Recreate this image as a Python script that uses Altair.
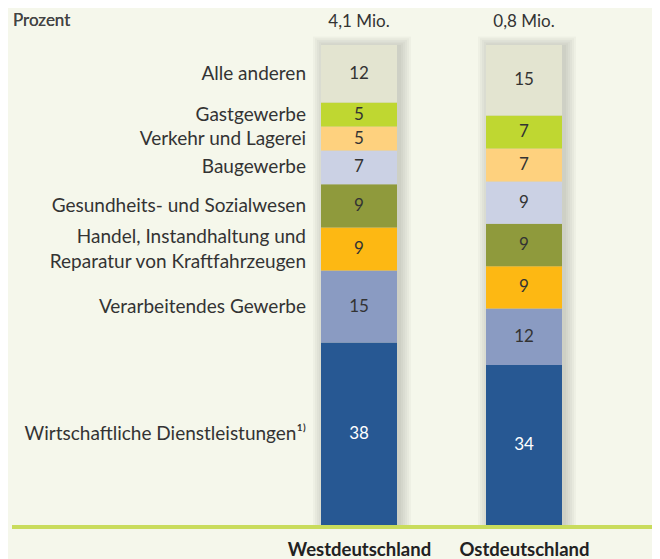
import altair as alt
import pandas as pd

# ---- data (bottom to top of each bar) ----
categories = [
    "Wirtschaftliche Dienstleistungen¹⁾",
    "Verarbeitendes Gewerbe",
    "Handel, Instandhaltung und\nReparatur von Kraftfahrzeugen",
    "Gesundheits- und Sozialwesen",
    "Baugewerbe",
    "Verkehr und Lagerei",
    "Gastgewerbe",
    "Alle anderen",
]
west = [38, 15, 9, 9, 7, 5, 5, 12]
ost = [34, 12, 9, 9, 9, 7, 7, 15]
colors = ["#275893", "#8a9bc2", "#fdb813", "#8f9a3c", "#cbd1e4", "#fed17e", "#bfd731", "#e3e4d0"]
regions = ["Westdeutschland", "Ostdeutschland"]
totals = ["4,1 Mio.", "0,8 Mio."]

rows = []
for reg, vals in zip(regions, [west, ost]):
    for i, (c, v) in enumerate(zip(categories, vals)):
        rows.append({"region": reg, "category": c, "value": v, "order": i})
df = pd.DataFrame(rows)
tot_df = pd.DataFrame({"region": regions, "total": totals, "top": [1, 1], "bot": [0, 0]})

FONT = "Lato"
TXT = "#333333"

xscale = alt.Scale(type="point", domain=regions, range=[351, 516], padding=0)
yscale = alt.Scale(domain=[0, 1], range=[517, 37], nice=False, zero=False)

xaxis = alt.Axis(title=None, domain=False, ticks=False, labelFont=FONT,
                 labelFontSize=18.5, labelFontWeight="bold", labelColor="#222",
                 labelPadding=13, labelBaseline="top", labelAngle=0)
xenc = alt.X("region:N", scale=xscale, axis=xaxis)

base = alt.Chart(df).transform_stack(
    stack="value", groupby=["region"], as_=["y0", "y1"], offset="normalize",
    sort=[alt.SortField("order", order="ascending")]
).transform_calculate(mid="(datum.y0 + datum.y1) / 2")

shadows = []
for k in range(6):
    shadows.append(
        alt.Chart(tot_df).transform_calculate(st=f"datum.top + {0.0035 * k}")
        .mark_bar(size=78 + 4 * k, color="#3a3d30", opacity=0.035, xOffset=3)
        .encode(x=xenc, y=alt.Y("bot:Q", scale=yscale, axis=None), y2="st:Q")
    )

bars = base.mark_bar(size=76).encode(
    x=xenc,
    y=alt.Y("y0:Q", scale=yscale, axis=None),
    y2="y1:Q",
    color=alt.Color("category:N", scale=alt.Scale(domain=categories, range=colors), legend=None),
)

values = base.mark_text(font=FONT, fontSize=17, baseline="middle").encode(
    x=xenc,
    y=alt.Y("mid:Q", scale=yscale),
    text="value:Q",
    color=alt.condition(alt.datum.order == 0, alt.value("white"), alt.value(TXT)),
)

west_only = base.transform_filter(alt.datum.region == "Westdeutschland")

labels_single = west_only.transform_filter("indexof(datum.category, '\\n') < 0").mark_text(
    font=FONT, fontSize=19, align="right", baseline="middle", dx=-53, color=TXT
).encode(
    x=xenc,
    y=alt.Y("mid:Q", scale=yscale),
    text="category:N",
)

labels_multi = west_only.transform_filter("indexof(datum.category, '\\n') >= 0").mark_text(
    font=FONT, fontSize=19, align="right", baseline="middle", dx=-53, dy=-12.5,
    lineBreak="\n", lineHeight=25, color=TXT
).encode(
    x=xenc,
    y=alt.Y("mid:Q", scale=yscale),
    text="category:N",
)

top_text = alt.Chart(tot_df).mark_text(font=FONT, fontSize=17, baseline="middle", dy=-23,
                                       color=TXT).encode(
    x=xenc,
    y=alt.Y("top:Q", scale=yscale),
    text="total:N",
)

line = alt.Chart(tot_df).mark_rule(color="#c9dc5c", strokeWidth=4).encode(
    x=alt.value(4), x2=alt.value(652), y=alt.value(519)
)

unit = alt.Chart(tot_df).mark_text(font=FONT, fontSize=17, fontWeight="normal", align="left",
                                    baseline="top", color="#444444").encode(
    x=alt.value(5), y=alt.value(5), text=alt.value("Prozent")
)

chart = alt.layer(*shadows, bars, values, labels_single, labels_multi, top_text, line, unit).properties(
    width=644, height=519,
    autosize=alt.AutoSizeParams(type="none"),
    padding={"left": 0, "top": 0, "right": 0, "bottom": 32},
    background="#f5f7eb",
).configure_view(stroke=None)

chart.save("out.html", embed_options={"renderer": "svg", "actions": False})
